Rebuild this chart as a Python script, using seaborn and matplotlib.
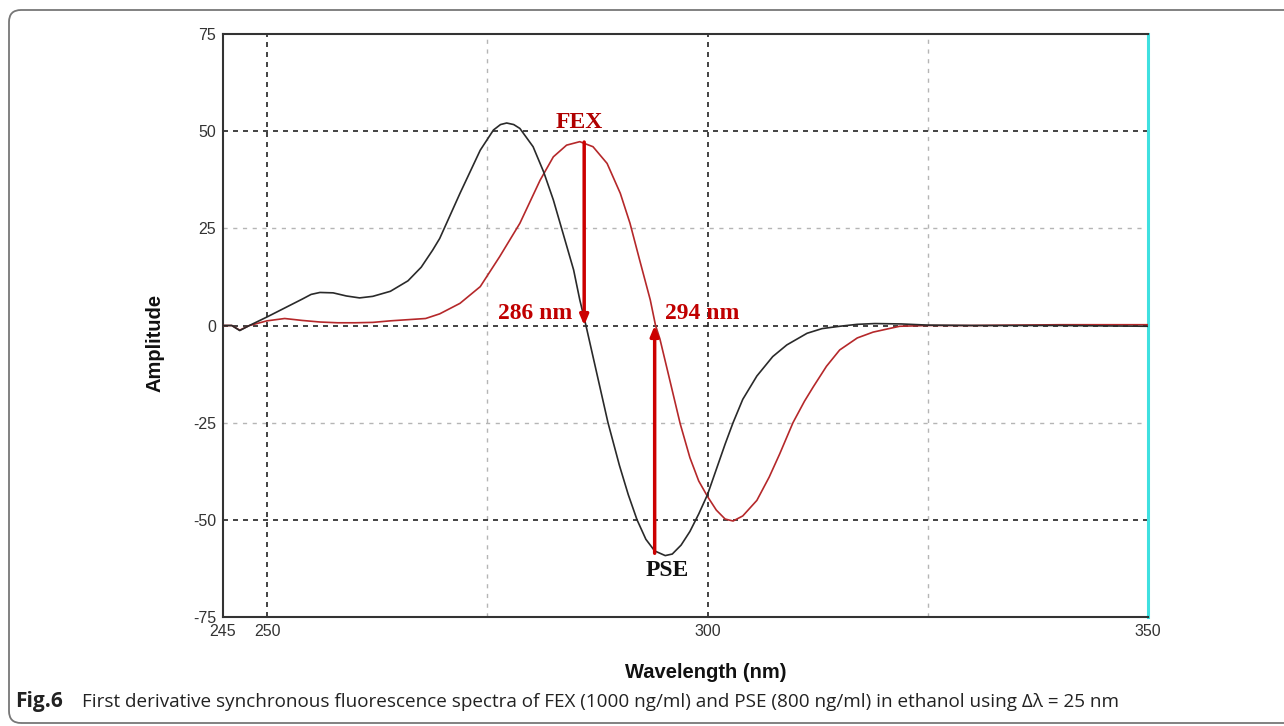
import matplotlib
matplotlib.use("Agg")
import matplotlib.pyplot as plt
import matplotlib.transforms as mtransforms
from matplotlib.patches import FancyBboxPatch
import seaborn as sns
import pandas as pd

# ---------------- data ----------------
pse_wavelength = [245, 246, 246.9, 248, 250, 252, 254, 255, 256, 257.5, 259, 260.5, 262, 264,
                  266, 267.5, 268.8, 269.6, 271.9, 274.2, 275.7, 276.5, 277.2, 278, 278.7,
                  280.2, 281.4, 282.5, 283.6, 284.8, 285.5, 286.2, 287, 288, 288.7, 290,
                  291, 292, 293, 294, 295.2, 296, 297, 298, 299, 300, 301, 302, 302.9, 304,
                  305.6, 307.4, 309, 311.3, 313, 315, 317, 319, 322, 325, 330, 340, 350]
pse_amplitude = [0, 0, -1.3, 0, 2.2, 4.5, 6.8, 8.0, 8.5, 8.4, 7.6, 7.1, 7.5, 8.8,
                 11.5, 15, 19.4, 22.4, 34, 45.1, 50.3, 51.7, 52.1, 51.7, 50.7,
                 46, 39.5, 32.3, 23.7, 14.3, 6.6, 0, -8, -18, -25, -36,
                 -43.5, -50, -55, -58, -59.2, -58.8, -56.5, -53, -48.5, -43.5, -37, -30.5, -25, -19,
                 -13, -8, -5, -2, -0.8, -0.2, 0.3, 0.5, 0.4, 0.1, 0, 0, -0.2]

fex_wavelength = [245, 246, 246.9, 248, 250, 252, 254, 256, 258, 260, 262, 264, 266, 268,
                  269.6, 271.9, 274.2, 276.4, 278.7, 281, 282.5, 284, 285.5, 287, 288.6,
                  290.1, 291.2, 292.3, 293.5, 294.1, 294.6, 295.5, 296.9, 298, 299, 300,
                  301, 302, 302.9, 304, 305.6, 307, 308.2, 309.7, 311, 312, 313.5, 315, 317,
                  318.8, 321.8, 325, 330, 340, 350]
fex_amplitude = [0, 0, -1.2, 0, 1.2, 1.8, 1.3, 0.9, 0.7, 0.7, 0.8, 1.2, 1.5, 1.8,
                 3.0, 5.7, 10, 17.7, 26.3, 37.4, 43.4, 46.4, 47.3, 46, 41.7,
                 34, 26.3, 16.8, 6.6, 0, -3.5, -12, -25.3, -34, -40, -44,
                 -47.5, -49.8, -50.3, -49, -45, -39, -33, -25, -19.5, -15.8, -10.5, -6.3, -3.2,
                 -1.7, -0.2, 0, 0, 0.2, 0.2]

x_ticks = [245, 250, 300, 350]
y_ticks = [-75, -50, -25, 0, 25, 50, 75]
major_x_grid = [250, 300]
minor_x_grid = [275, 325]
major_y_grid = [50, 0, -50]
minor_y_grid = [25, -25]

fex_peak = (286, 47.2)
fex_zero = (286, 0)
pse_min = (294, -58.6)
pse_zero = (294, 0)

# ---------------- plot ----------------
sns.set_style("white")
plt.rcParams['font.family'] = ['Liberation Sans', 'DejaVu Sans']
plt.rcParams['axes.unicode_minus'] = False

fig = plt.figure(figsize=(12.84, 7.26), dpi=100)
ax = fig.add_axes([223 / 1284, 1 - 617 / 726, (1148 - 223) / 1284, (617 - 34) / 726])

# grid
for gx in minor_x_grid:
    ax.axvline(gx, color="#b5b5b5", lw=1.0, ls=(0, (3, 4)), zorder=1)
for gy in minor_y_grid:
    ax.axhline(gy, color="#b5b5b5", lw=1.0, ls=(0, (3, 4)), zorder=1)
for gx in major_x_grid:
    ax.axvline(gx, color="#222222", lw=1.2, ls=(0, (3, 3)), zorder=1)
for gy in major_y_grid:
    ax.axhline(gy, color="#222222", lw=1.2, ls=(0, (3, 3)), zorder=1)

df_pse = pd.DataFrame({"Wavelength": pse_wavelength, "Amplitude": pse_amplitude})
df_fex = pd.DataFrame({"Wavelength": fex_wavelength, "Amplitude": fex_amplitude})
sns.lineplot(data=df_fex, x="Wavelength", y="Amplitude", ax=ax, color="#b5282a",
             lw=1.2, sort=False, zorder=3)
sns.lineplot(data=df_pse, x="Wavelength", y="Amplitude", ax=ax, color="#2a2a2a",
             lw=1.2, sort=False, zorder=4)

ax.set_xlim(245, 350)
ax.set_ylim(-75, 75)
ax.set_xticks(x_ticks)
ax.set_xticks(minor_x_grid, minor=True)
ax.set_yticks(y_ticks)
ax.tick_params(axis="both", which="both", direction="in", length=4, width=1,
               color="#222222", labelsize=11.5, labelcolor="#333333", pad=5)
ax.set_xlabel("")
ax.set_ylabel("")

for side in ["left", "bottom", "top"]:
    ax.spines[side].set_color("#333333")
    ax.spines[side].set_linewidth(1.5)
ax.spines["right"].set_color("#3fe0e0")
ax.spines["right"].set_linewidth(2.2)

# arrows
arrow_props = dict(arrowstyle="-|>,head_length=0.6,head_width=0.25", color="#cc0000",
                   lw=2.5, shrinkA=0, shrinkB=0)
ax.annotate("", xy=fex_zero, xytext=fex_peak, arrowprops=arrow_props, zorder=5)
ax.annotate("", xy=pse_zero, xytext=pse_min, arrowprops=arrow_props, zorder=5)

serif = ['Liberation Serif', 'DejaVu Serif']
ax.text(285.4, 52.3, "FEX", color="#b00000", fontsize=17, fontweight="bold",
        family=serif, ha="center", va="center", zorder=6)
ax.text(284.6, 3.0, "286 nm", color="#c00000", fontsize=17, fontweight="bold",
        family=serif, ha="right", va="center", zorder=6)
ax.text(295.2, 3.0, "294 nm", color="#c00000", fontsize=17, fontweight="bold",
        family=serif, ha="left", va="center", zorder=6)
ax.text(295.4, -63.0, "PSE", color="#111111", fontsize=17, fontweight="bold",
        family=serif, ha="center", va="center", zorder=6)

# axis labels
fig.text(155 / 1284, 1 - 343 / 726, "Amplitude", rotation=90, fontsize=14.5,
         fontweight="bold", ha="center", va="center", color="#111111")
fig.text(706 / 1284, 1 - 673 / 726, "Wavelength (nm)", fontsize=14.5,
         fontweight="bold", ha="center", va="center", color="#111111")

# caption
cap_family = ['Open Sans', 'DejaVu Sans']
fig.text(15 / 1284, 1 - 702 / 726, "Fig.6", fontsize=15, fontweight="bold",
         family=cap_family, ha="left", va="center", color="#222222")
fig.text(82 / 1284, 1 - 702 / 726,
         "First derivative synchronous fluorescence spectra of FEX (1000 ng/ml) and PSE "
         "(800 ng/ml) in ethanol using \u0394\u03bb = 25 nm",
         fontsize=13.6, family=cap_family, ha="left", va="center", color="#222222")

# frame around figure
frame = FancyBboxPatch((9, 3), 1400, 713, boxstyle="round,pad=0,rounding_size=12",
                       transform=mtransforms.IdentityTransform(), fill=False,
                       edgecolor="#777777", lw=1.3)
fig.add_artist(frame)

fig.savefig("out.png", dpi=100)
